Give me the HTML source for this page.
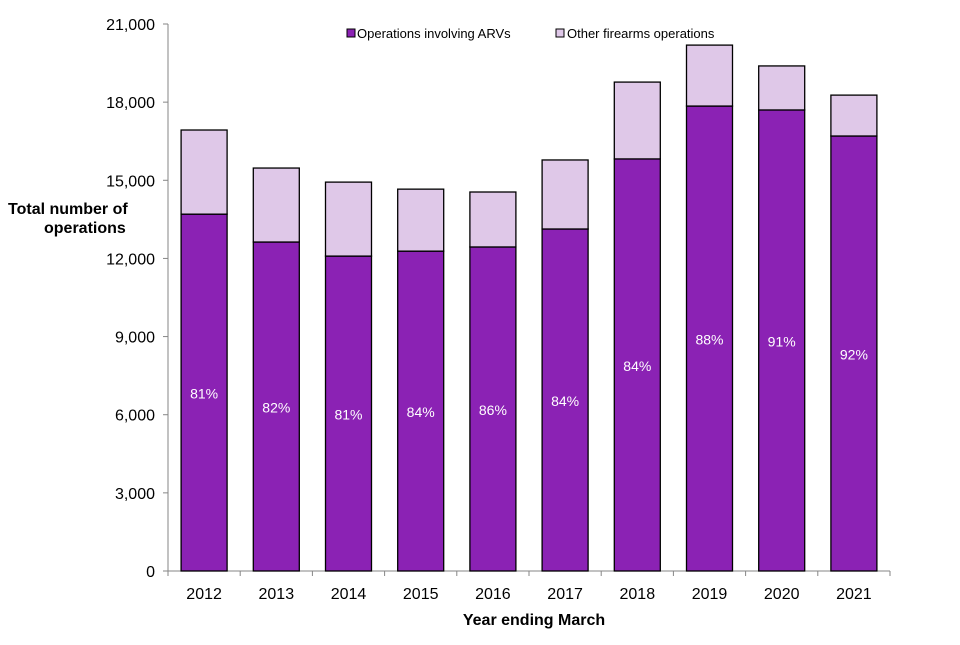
<!DOCTYPE html>
<html><head><meta charset="utf-8"><style>
body{margin:0;background:#fff;font-family:"Liberation Sans",Arial,sans-serif}
svg text{font-family:"Liberation Sans",Arial,sans-serif}
</style></head><body>
<svg id="chart" width="960" height="640" viewBox="0 0 960 640" xmlns="http://www.w3.org/2000/svg">
<g id="axes"></g><g id="bars"></g>
<g>
<rect x="347" y="29" width="8" height="8" fill="#8b22b4" stroke="#000" stroke-width="1"/>
<text x="357" y="38" font-size="13">Operations involving ARVs</text>
<rect x="556" y="29" width="8" height="8" fill="#dfc8e8" stroke="#000" stroke-width="1"/>
<text x="567" y="38" font-size="13">Other firearms operations</text>
</g>
<text font-size="16" font-weight="bold"><tspan x="8" y="214">Total number of</tspan><tspan x="44" y="233">operations</tspan></text>
<text x="534" y="625" font-size="16" font-weight="bold" text-anchor="middle">Year ending March</text>
</svg>
<script>
const categories=["2012","2013","2014","2015","2016","2017","2018","2019","2020","2021"];
const arvValues=[13700,12630,12090,12280,12440,13130,15820,17850,17700,16700];
const totalValues=[16930,15470,14930,14660,14550,15780,18770,20190,19390,18270];
const pctLabels=["81%","82%","81%","84%","86%","84%","84%","88%","91%","92%"];
const yTicks=[0,3000,6000,9000,12000,15000,18000,21000];
const NS="http://www.w3.org/2000/svg";
const x0=168,x1=890,y0=571,yTop=24,yMax=21000;
const y=v=>y0-(v/yMax)*(y0-yTop);
const step=(x1-x0)/categories.length;
const xc=i=>x0+step*(i+0.5);
function mk(tag,attrs,parent,txt){const e=document.createElementNS(NS,tag);for(const k in attrs)e.setAttribute(k,attrs[k]);if(txt!=null)e.textContent=txt;parent.appendChild(e);return e;}
const axes=document.getElementById('axes'),bars=document.getElementById('bars');
let e=mk('line',{x1:x0,y1:yTop,x2:x0,y2:y0,stroke:'#868686'},axes);


e=mk('line',{x1:x0,y1:y0,x2:x1,y2:y0,stroke:'#868686'},axes);


yTicks.forEach(t=>{
  const tk=mk('line',{x1:x0-5,y1:y(t),x2:x0,y2:y(t),stroke:'#868686'},axes);
  
  
  const lb=mk('text',{x:x0-13,y:y(t)+6,'font-size':16,'text-anchor':'end'},axes,t.toLocaleString('en-US'));
  
  
});
for(let i=0;i<=categories.length;i++){
  const tk=mk('line',{x1:x0+step*i,y1:y0,x2:x0+step*i,y2:y0+5,stroke:'#868686'},axes);
  
  
}
const bw=46;
categories.forEach((c,i)=>{
  const cx=xc(i);
  const b1=mk('rect',{x:cx-bw/2,y:y(arvValues[i]),width:bw,height:y0-y(arvValues[i]),fill:'#8b22b4',stroke:'#000','stroke-width':1.3},bars);
  
  
  const b2=mk('rect',{x:cx-bw/2,y:y(totalValues[i]),width:bw,height:y(arvValues[i])-y(totalValues[i]),fill:'#dfc8e8',stroke:'#000','stroke-width':1.3},bars);
  
  
  const pl=mk('text',{x:cx,y:y(arvValues[i]/2)+6,'font-size':14,fill:'#fff','text-anchor':'middle'},bars,pctLabels[i]);
  
  
  const xl=mk('text',{x:cx,y:y0+28,'font-size':16,'text-anchor':'middle'},axes,c);
  
  
});
</script>
</body></html>
